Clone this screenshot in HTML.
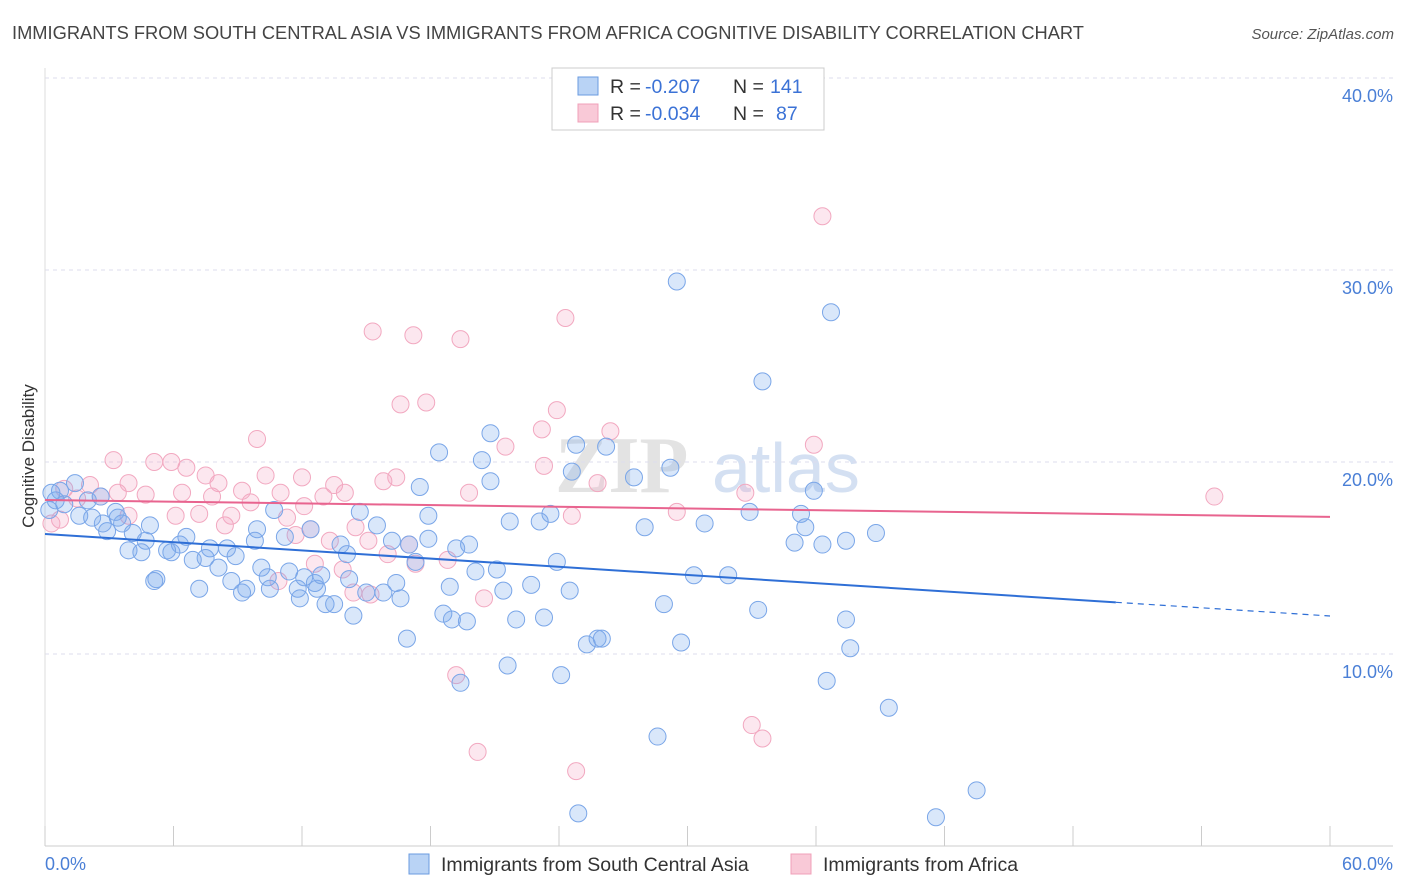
<!DOCTYPE html>
<html><head><meta charset="utf-8"><style>
body{margin:0;background:#fff;font-family:"Liberation Sans",sans-serif;}
svg{display:block}
</style></head><body>
<svg width="1406" height="892" viewBox="0 0 1406 892">
<text x="12" y="39" font-size="18.3" fill="#444">IMMIGRANTS FROM SOUTH CENTRAL ASIA VS IMMIGRANTS FROM AFRICA COGNITIVE DISABILITY CORRELATION CHART</text>
<text x="1394" y="39" font-size="15" fill="#555" font-style="italic" text-anchor="end">Source: ZipAtlas.com</text>
<text x="555" y="492" font-size="80" fill="#e3e3e3" font-family="Liberation Serif,serif" font-weight="bold">ZIP</text>
<text x="712" y="492" font-size="70" fill="#d4e0f2">atlas</text>
<g id="grid"></g>
<g id="axes"></g>
<g id="pts"></g>
<g id="trends"></g>
<text transform="translate(34,456) rotate(-90)" font-size="17" fill="#333" text-anchor="middle">Cognitive Disability</text>
<text x="45" y="870" font-size="18" fill="#4a7fd6">0.0%</text>
<text x="1393" y="870" font-size="18" fill="#4a7fd6" text-anchor="end">60.0%</text>
<g>
<rect x="552" y="68" width="272" height="62" fill="#fff" stroke="#ccc"/>
<rect x="578" y="77" width="20" height="18" fill="#b9d3f5" stroke="#6a9be0"/>
<rect x="578" y="104" width="20" height="18" fill="#f9c9d7" stroke="#f0a0b8"/>
<text x="610" y="93" font-size="19.5" fill="#333">R =</text>
<text x="645" y="93" font-size="19.5" fill="#3b72d6">-0.207</text>
<text x="733" y="93" font-size="19.5" fill="#333">N =</text>
<text x="770" y="93" font-size="19.5" fill="#3b72d6">141</text>
<text x="610" y="120" font-size="19.5" fill="#333">R =</text>
<text x="645" y="120" font-size="19.5" fill="#3b72d6">-0.034</text>
<text x="733" y="120" font-size="19.5" fill="#333">N =</text>
<text x="776" y="120" font-size="19.5" fill="#3b72d6">87</text>
</g>
<g>
<rect x="409" y="854" width="20" height="20" fill="#b9d3f5" stroke="#6a9be0"/>
<text x="441" y="871" font-size="19.5" fill="#333">Immigrants from South Central Asia</text>
<rect x="791" y="854" width="20" height="20" fill="#f9c9d7" stroke="#f0a0b8"/>
<text x="823" y="871" font-size="19.5" fill="#333">Immigrants from Africa</text>
</g>
</svg>
<script>
const yTicks=[10,20,30,40];
const yTickLabels=["10.0%","20.0%","30.0%","40.0%"];
const xTicks=[0,6,12,18,24,30,36,42,48,54,60];
const blueX=[29.5,36.7,33.5,20.8,18.4,20.4,24.6,26.2,24.8,29.2,27.5,20.8,17.5,35.9,32.9,35.3,30.8,28.0,23.6,23.1,21.7,17.9,15.5,14.7,10.7,38.8,37.4,36.3,35.0,35.5,23.9,19.8,19.2,16.2,17.9,17.0,13.8,14.1,12.4,11.2,9.9,9.8,8.9,8.5,7.7,7.5,6.9,6.6,6.3,5.9,5.7,4.9,4.7,4.1,3.9,4.5,2.9,3.4,3.6,2.2,1.6,1.4,0.7,0.5,0.2,0.9,2.0,2.6,3.3,0.3,5.2,5.1,7.2,8.1,8.7,9.2,9.4,10.1,10.4,10.5,11.4,11.8,11.9,12.1,12.6,12.7,12.9,13.1,13.5,14.2,14.4,15.0,15.8,16.4,16.6,16.9,17.3,18.9,18.6,19.0,19.7,19.4,20.1,21.1,21.4,22.0,22.7,23.3,24.5,21.6,24.1,25.3,25.8,26.0,28.9,29.7,30.3,31.9,33.3,37.4,37.6,36.5,39.4,28.6,43.5,41.6,24.9,2.7];
const blueY=[29.4,27.8,24.2,21.5,20.5,20.1,19.5,20.8,20.9,19.7,19.2,19.0,18.7,18.5,17.4,17.3,16.8,16.6,17.3,16.9,16.9,17.2,16.7,17.4,17.5,16.3,15.9,15.7,15.8,16.6,14.8,15.7,15.5,15.9,16.0,15.7,15.7,15.2,16.5,16.1,16.5,15.9,15.1,15.5,15.5,15.0,14.9,16.1,15.7,15.3,15.4,16.7,15.9,16.3,15.4,15.3,16.4,17.1,16.8,17.1,17.2,18.9,18.5,18.0,17.5,17.8,18.0,18.2,17.4,18.4,13.9,13.8,13.4,14.5,13.8,13.2,13.4,14.5,14.0,13.4,14.3,13.4,12.9,14.0,13.7,13.4,14.1,12.6,12.6,13.9,12.0,13.2,13.2,13.7,12.9,10.8,14.8,13.5,12.1,11.8,11.7,8.5,14.3,14.4,13.3,11.8,13.6,11.9,13.3,9.4,8.9,10.5,10.8,10.8,12.6,10.6,14.1,14.1,12.3,11.8,10.3,8.6,7.2,5.7,2.9,1.5,1.7,16.8];
const pinkX=[36.3,24.3,15.3,17.2,19.4,16.6,17.8,23.9,23.2,26.4,9.9,21.5,35.9,3.2,5.1,5.9,6.6,23.3,7.5,10.3,12.0,15.8,16.4,8.1,3.9,2.1,13.5,25.8,32.7,54.6,19.8,14.0,13.0,11.0,9.2,7.8,6.4,4.7,3.4,2.6,0.9,1.5,9.6,12.1,8.7,7.2,6.1,3.9,24.6,29.5,11.3,8.4,14.5,12.4,11.7,0.7,0.3,13.3,15.1,17.0,16.0,17.3,18.8,12.6,13.9,10.9,14.4,15.2,20.5,19.2,33.0,33.5,20.2,24.8];
const pinkY=[32.8,27.5,26.8,26.6,26.4,23.0,23.1,22.7,21.7,21.6,21.2,20.8,20.9,20.1,20.0,20.0,19.7,19.8,19.3,19.3,19.2,19.0,19.2,18.9,18.9,18.8,18.8,18.9,18.4,18.2,18.4,18.4,18.2,18.4,18.5,18.2,18.4,18.3,18.4,18.2,18.6,18.1,17.9,17.7,17.2,17.3,17.2,17.2,17.2,17.4,17.1,16.7,16.6,16.5,16.2,17.0,16.8,15.9,15.9,15.7,15.2,14.7,14.9,14.7,14.4,13.8,13.2,13.1,12.9,8.9,6.3,5.6,4.9,3.9];
const blueTrend=[16.25,11.98]; // y at x=0 and x=60
const pinkTrend=[18.02,17.14];
const blueSolidEnd=50;

const NS="http://www.w3.org/2000/svg";
const xs=v=>45+v*(1330-45)/60;
const ys=v=>846-v*19.2;
function mk(tag,attrs,parent){const e=document.createElementNS(NS,tag);for(const k in attrs)e.setAttribute(k,attrs[k]);document.getElementById(parent).appendChild(e);return e;}

yTicks.forEach((t,i)=>{
  const l=mk('line',{x1:45,x2:1393,y1:ys(t),y2:ys(t),stroke:'#dde',"stroke-dasharray":'4,4'},'grid');
  
  
  const tx=mk('text',{x:1393,y:ys(t)+24,"font-size":18,fill:'#4a7fd6',"text-anchor":'end'},'grid');
  tx.textContent=yTickLabels[i];
  
  
});
const ax=mk('line',{x1:45,x2:1393,y1:846,y2:846,stroke:'#ccc'},'axes');


const ay=mk('line',{x1:45,x2:45,y1:68,y2:846,stroke:'#ddd'},'axes');


xTicks.forEach(t=>{
  const l=mk('line',{x1:xs(t),x2:xs(t),y1:826,y2:846,stroke:'#ccc'},'axes');
  
  
});
function pts(X,Y,fill,stroke,name){
  X.forEach((x,i)=>{
    const c=mk('circle',{cx:xs(x),cy:ys(Y[i]),r:8.5,fill:fill,stroke:stroke,"stroke-width":1},'pts');
    
    
  });
}
pts(pinkX,pinkY,'rgba(244,170,196,0.28)','#f2a8c0','point-africa');
pts(blueX,blueY,'rgba(120,168,236,0.28)','#7aa6e8','point-asia');
const bt=x=>blueTrend[0]+(blueTrend[1]-blueTrend[0])*x/60;
const b1=mk('line',{x1:xs(0),y1:ys(bt(0)),x2:xs(blueSolidEnd),y2:ys(bt(blueSolidEnd)),stroke:'#2f6fd6',"stroke-width":2},'trends');


const b2=mk('line',{x1:xs(blueSolidEnd),y1:ys(bt(blueSolidEnd)),x2:xs(60),y2:ys(bt(60)),stroke:'#2f6fd6',"stroke-width":1.2,"stroke-dasharray":'6,5'},'trends');


const p1=mk('line',{x1:xs(0),y1:ys(pinkTrend[0]),x2:xs(60),y2:ys(pinkTrend[1]),stroke:'#e8648f',"stroke-width":2},'trends');


</script>
</body></html>
